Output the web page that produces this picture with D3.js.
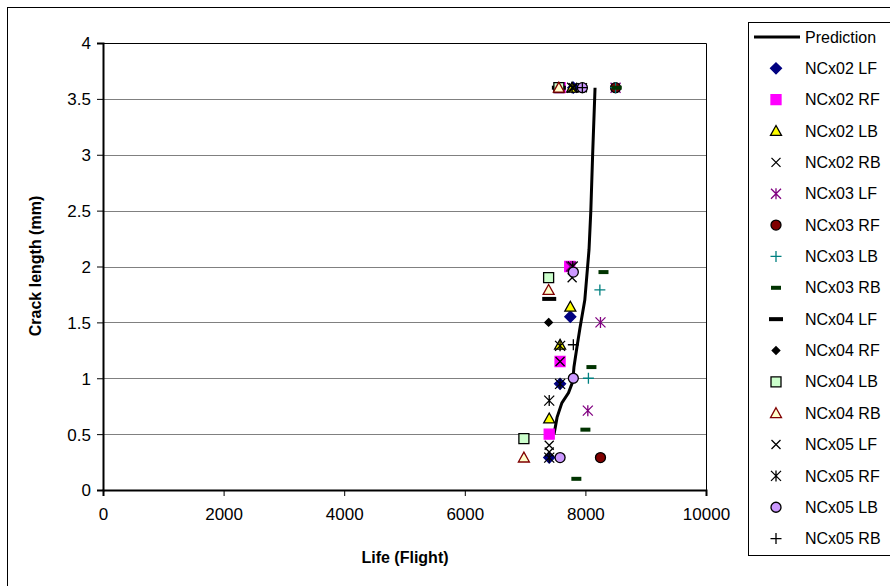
<!DOCTYPE html>
<html><head><meta charset="utf-8">
<script src="https://cdn.jsdelivr.net/npm/d3@7"></script>
<style>body{margin:0;background:#fff}svg{display:block}text{font-family:"Liberation Sans",Arial,sans-serif}</style>
</head><body>
<svg id="c" width="890" height="586"></svg>
<script>
// ---- data ----
const xTicks = [0, 2000, 4000, 6000, 8000, 10000];
const yTicks = [0, 0.5, 1, 1.5, 2, 2.5, 3, 3.5, 4];
const xTitle = "Life (Flight)";
const yTitle = "Crack length (mm)";
// prediction curve [life, crack]
const prediction = [[7480,0.5],[7530,0.65],[7610,0.78],[7720,0.87],[7790,0.97],[7810,1.1],[7860,1.28],[7910,1.45],[7990,1.7],[8060,2.15],[8090,2.5],[8120,3.0],[8160,3.6]];
const ncx02LF = [[7400,0.29],[7580,0.95],[7750,1.55],[7800,3.6]];
const ncx02RF = [[7400,0.5],[7580,1.15],[7740,2.0],[7580,3.6]];
const ncx02LB = [[7400,0.64],[7580,1.3],[7750,1.64],[7780,3.6]];
const ncx02RB = [[7400,0.4],[7580,1.15],[7760,2.0],[7800,3.6]];
const ncx03LF = [[8040,0.71],[8250,1.5],[7760,2.0],[8500,3.6]];
const ncx03RF = [[8250,0.29],[8500,3.6]];
const ncx03LB = [[8050,1.0],[8240,1.79],[8500,3.6]];
const ncx03RB = [[7850,0.1],[8000,0.54],[8100,1.1],[8300,1.95],[8520,3.6]];
const ncx04LF = [[7400,1.71],[7560,3.6]];
const ncx04RF = [[7390,1.5],[7560,3.6]];
const ncx04LB = [[6980,0.46],[7390,1.9],[7560,3.6]];
const ncx04RB = [[6980,0.29],[7390,1.79],[7560,3.6]];
const ncx05LF = [[7400,0.34],[7780,1.9],[7950,3.6]];
const ncx05RF = [[7400,0.29],[7400,0.8],[7580,0.95],[7580,1.29],[7790,2.0],[7780,3.6]];
const ncx05LB = [[7580,0.29],[7800,1.0],[7800,1.95],[7950,3.6]];
const ncx05RB = [[7800,1.3],[7950,3.6]];
const seriesNames = ["NCx02 LF","NCx02 RF","NCx02 LB","NCx02 RB","NCx03 LF","NCx03 RF","NCx03 LB","NCx03 RB","NCx04 LF","NCx04 RF","NCx04 LB","NCx04 RB","NCx05 LF","NCx05 RF","NCx05 LB","NCx05 RB"];
const seriesData = [ncx02LF,ncx02RF,ncx02LB,ncx02RB,ncx03LF,ncx03RF,ncx03LB,ncx03RB,ncx04LF,ncx04RF,ncx04LB,ncx04RB,ncx05LF,ncx05RF,ncx05LB,ncx05RB];

// ---- styles ----
const markerStyles = [
  {shape:"diamond", r:5.5, fill:"#000080", stroke:"#000080"},
  {shape:"square", r:5, fill:"#FF00FF", stroke:"#FF00FF"},
  {shape:"triangle", r:5.5, fill:"#FFFF00", stroke:"#000"},
  {shape:"x", r:4.5, fill:"none", stroke:"#000"},
  {shape:"star", r:5, fill:"none", stroke:"#800080"},
  {shape:"circle", r:5, fill:"#800000", stroke:"#000"},
  {shape:"plus", r:5.5, fill:"none", stroke:"#008080"},
  {shape:"dash", r:5, fill:"#003300", stroke:"none"},
  {shape:"bar", r:7, fill:"#000", stroke:"none"},
  {shape:"diamond", r:3.8, fill:"#000", stroke:"#000"},
  {shape:"square", r:5, fill:"#CCFFCC", stroke:"#000"},
  {shape:"triangle", r:5.5, fill:"#FFFFCC", stroke:"#800000"},
  {shape:"x", r:4.5, fill:"none", stroke:"#000"},
  {shape:"star", r:5, fill:"none", stroke:"#000"},
  {shape:"circle", r:5, fill:"#CC99FF", stroke:"#000"},
  {shape:"plus", r:5.5, fill:"none", stroke:"#000"}
];
function markerPath(s){
  const r=s.r;
  switch(s.shape){
    case "diamond": return `M0,${-r}L${r},0L0,${r}L${-r},0Z`;
    case "square": return `M${-r},${-r}H${r}V${r}H${-r}Z`;
    case "triangle": return `M0,${-r}L${r},${r*0.8}L${-r},${r*0.8}Z`;
    case "x": return `M${-r},${-r}L${r},${r}M${-r},${r}L${r},${-r}`;
    case "star": return `M${-r},${-r}L${r},${r}M${-r},${r}L${r},${-r}M0,${-r*1.1}V${r*1.1}`;
    case "circle": return `M${r},0A${r},${r} 0 1,1 ${-r},0A${r},${r} 0 1,1 ${r},0Z`;
    case "plus": return `M${-r},0H${r}M0,${-r}V${r}`;
    case "dash": return `M${-r},-2H${r}V2H${-r}Z`;
    case "bar": return `M${-r},-2H${r}V2H${-r}Z`;
  }
}

const svg = d3.select("#c");
// outer chart border
svg.append("rect").attr("x",7.5).attr("y",7.5).attr("width",900).attr("height",600).attr("fill","none").attr("stroke","#000");

const x = d3.scaleLinear().domain([0,10000]).range([103,706]);
const y = d3.scaleLinear().domain([0,4]).range([490,43]);

// gridlines
svg.append("g").selectAll("line").data(yTicks.filter(d=>d>0)).join("line")
  .attr("x1",x(0)).attr("x2",x(10000)).attr("y1",d=>Math.round(y(d))+0.5).attr("y2",d=>Math.round(y(d))+0.5)
  .attr("stroke","#808080").attr("stroke-width",1);
// plot frame top/right
svg.append("path").attr("d",`M${x(0)},${Math.round(y(4))+0.5}H${x(10000)+0.5}V${y(0)}`).attr("fill","none").attr("stroke","#000").attr("stroke-width",1);

// axes
const xAxis = d3.axisBottom(x).tickValues(xTicks).tickSize(6).tickPadding(12).tickFormat(d3.format("d"));
const gx = svg.append("g").attr("transform",`translate(0,${y(0)})`).call(xAxis);
const yAxis = d3.axisLeft(y).tickValues(yTicks).tickSize(6).tickPadding(6).tickFormat(d=>String(d));
const gy = svg.append("g").attr("transform",`translate(${x(0)},0)`).call(yAxis);
[gx,gy].forEach(g=>{
  g.select(".domain").attr("stroke","#000").attr("stroke-width",2);
  g.selectAll(".tick line").attr("stroke","#000");
  g.selectAll(".tick text").attr("font-size",17).attr("fill","#000").attr("font-family","Liberation Sans, Arial, sans-serif");
});
gy.selectAll(".tick text").attr("dy","0.35em");

// axis titles
svg.append("text").attr("x",405).attr("y",563).attr("text-anchor","middle").attr("font-size",16).attr("font-weight","bold").text(xTitle);
svg.append("text").attr("transform","translate(41,266) rotate(-90)").attr("text-anchor","middle").attr("font-size",16).attr("font-weight","bold").text(yTitle);

// prediction line
svg.append("path").datum(prediction)
  .attr("d", d3.line().x(d=>x(d[0])).y(d=>y(d[1])))
  .attr("fill","none").attr("stroke","#000").attr("stroke-width",3);

// markers
seriesData.forEach((pts,i)=>{
  const st = markerStyles[i];
  svg.append("g").selectAll("path").data(pts).join("path")
    .attr("transform",d=>`translate(${x(d[0])},${y(d[1])})`)
    .attr("d",markerPath(st))
    .attr("fill",st.fill).attr("stroke",st.stroke).attr("stroke-width",1.3);
});

// legend
svg.append("rect").attr("x",748.5).attr("y",22.5).attr("width",200).attr("height",533).attr("fill","#fff").attr("stroke","#000");
const rowY = i => 37 + i*31.35;
svg.append("line").attr("x1",754).attr("x2",800).attr("y1",rowY(0)).attr("y2",rowY(0)).attr("stroke","#000").attr("stroke-width",3);
svg.append("text").attr("x",805).attr("y",rowY(0)).attr("dy","0.35em").attr("font-size",16).text("Prediction");
seriesNames.forEach((n,i)=>{
  const st = markerStyles[i];
  const yy = rowY(i+1);
  svg.append("path").attr("transform",`translate(776,${yy})`).attr("d",markerPath(st))
    .attr("fill",st.fill).attr("stroke",st.stroke).attr("stroke-width",1.3);
  svg.append("text").attr("x",805).attr("y",yy).attr("dy","0.35em").attr("font-size",16).text(n);
});
</script>
</body></html>
